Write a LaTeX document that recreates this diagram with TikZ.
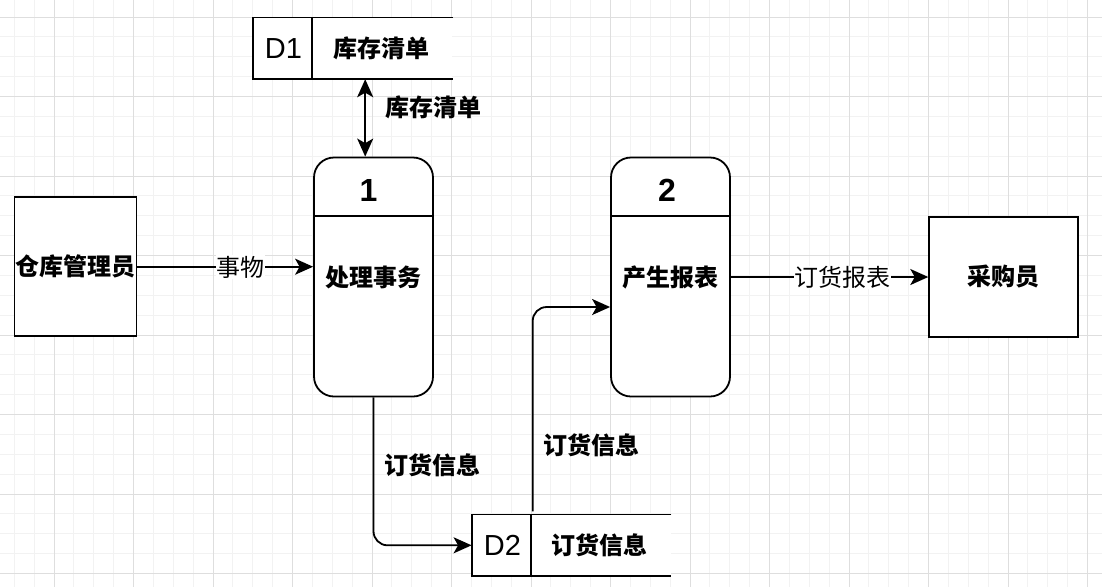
\documentclass[tikz,border=0pt]{standalone}
\usepackage{fontspec}
\setmainfont{Liberation Sans}
\newfontfamily\cjk{Noto Sans CJK SC}
\usetikzlibrary{arrows.meta,calc}
\begin{document}
\begin{tikzpicture}[x=1pt,y=-1pt,
  line width=1.8pt,
  box/.style={draw, line width=1.8pt, fill=white, inner sep=0pt},
  proc/.style={box, rounded corners=20pt, minimum width=119pt, minimum height=239pt},
  lbl/.style={font=\cjk\fontsize{24}{27}\selectfont, inner sep=1pt},
  blbl/.style={font=\cjk\bfseries\fontsize{24}{27}\selectfont, inner sep=1pt},
  edgelbl/.style={lbl, fill=white, inner sep=0.5pt},
  idlbl/.style={font=\fontsize{29}{32}\selectfont, inner sep=0pt},
  numlbl/.style={font=\bfseries\fontsize{32}{36}\selectfont, inner sep=0pt},
  tip/.tip={Stealth[length=18pt,width=16pt,inset=4.5pt]},
  arr/.style={line width=1.8pt, -tip},
  arrboth/.style={line width=1.8pt, tip-tip},
  storebox/.style={fill=white, minimum width=198pt, minimum height=60pt, inner sep=0pt},
  gridminor/.style={line width=1pt, draw=black!5},
  gridmajor/.style={line width=1pt, draw=black!13}
]
\useasboundingbox (0,0) rectangle (1102,587);
\fill[white] (0,0) rectangle (1102,587);
% background grid
\foreach \i in {0,...,55} {
  \draw[gridminor] ({14.25+19.875*\i},0) -- ({14.25+19.875*\i},587);
}
\foreach \i in {0,...,29} {
  \draw[gridminor] (0,{17+19.875*\i}) -- (1102,{17+19.875*\i});
}
\foreach \i in {0,...,13} {
  \draw[gridmajor] ({54+79.5*\i},0) -- ({54+79.5*\i},587);
}
\foreach \i in {0,...,7} {
  \draw[gridmajor] (0,{17+79.5*\i}) -- (1102,{17+79.5*\i});
}

% external entities
\node[box, blbl, minimum width=119pt, minimum height=139pt] (e1) at (75.5,266.7) {仓库管理员};
\node[box, blbl, minimum width=149pt, minimum height=119.5pt] (e2) at (1003.7,277) {采购员};

% processes
\node[proc, blbl] (p1) at (373.5,277) {处理事务};
\draw ($(p1.north west)+(0,59)$) -- ($(p1.north east)+(0,59)$);
\node[numlbl] (n1) at (368.5,190.5) {1};

\node[proc, blbl] (p2) at (670.5,277) {产生报表};
\draw ($(p2.north west)+(0,59)$) -- ($(p2.north east)+(0,59)$);
\node[numlbl] (n2) at (667,190.5) {2};

% data store D1
\node[storebox] (d1) at (353.2,48.3) {};
\draw (d1.north east) -- (d1.north west) -- (d1.south west) -- (d1.south east);
\draw ($(d1.north west)+(59,0)$) -- ($(d1.south west)+(59,0)$);
\node[idlbl] (d1id) at (283.5,48.3) {D1};
\node[blbl] (d1name) at (381.5,48.5) {库存清单};

% data store D2
\node[storebox] (d2) at (571.5,545.3) {};
\draw (d2.north east) -- (d2.north west) -- (d2.south west) -- (d2.south east);
\draw ($(d2.north west)+(59.5,0)$) -- ($(d2.south west)+(59.5,0)$);
\node[idlbl] (d2id) at (502.5,545.3) {D2};
\node[blbl] (d2name) at (599.5,545.5) {订货信息};

% flows
\draw[arrboth] ([xshift=12pt]d1.south) -- ([xshift=12pt]d1.south |- p1.north);
\node[blbl] (f1) at (433,107.5) {库存清单};

\draw[arr] (e1.east) -- (e1.east -| p1.west);
\node[edgelbl] (f2) at (240,267) {事物};

\draw[arr] (p2.east) -- (p2.east -| e2.west);
\node[edgelbl] (f3) at (842,277.5) {订货报表};

\draw[arr, rounded corners=14pt] (p1.south) |- (d2.west);
\node[blbl] (f4) at (432.7,465) {订货信息};

\draw[arr, rounded corners=14pt] ([xshift=-38.8pt,yshift=3pt]d2.north) |- ([yshift=-30pt]p2.west);
\node[blbl] (f5) at (591.7,445) {订货信息};
\end{tikzpicture}
\end{document}
